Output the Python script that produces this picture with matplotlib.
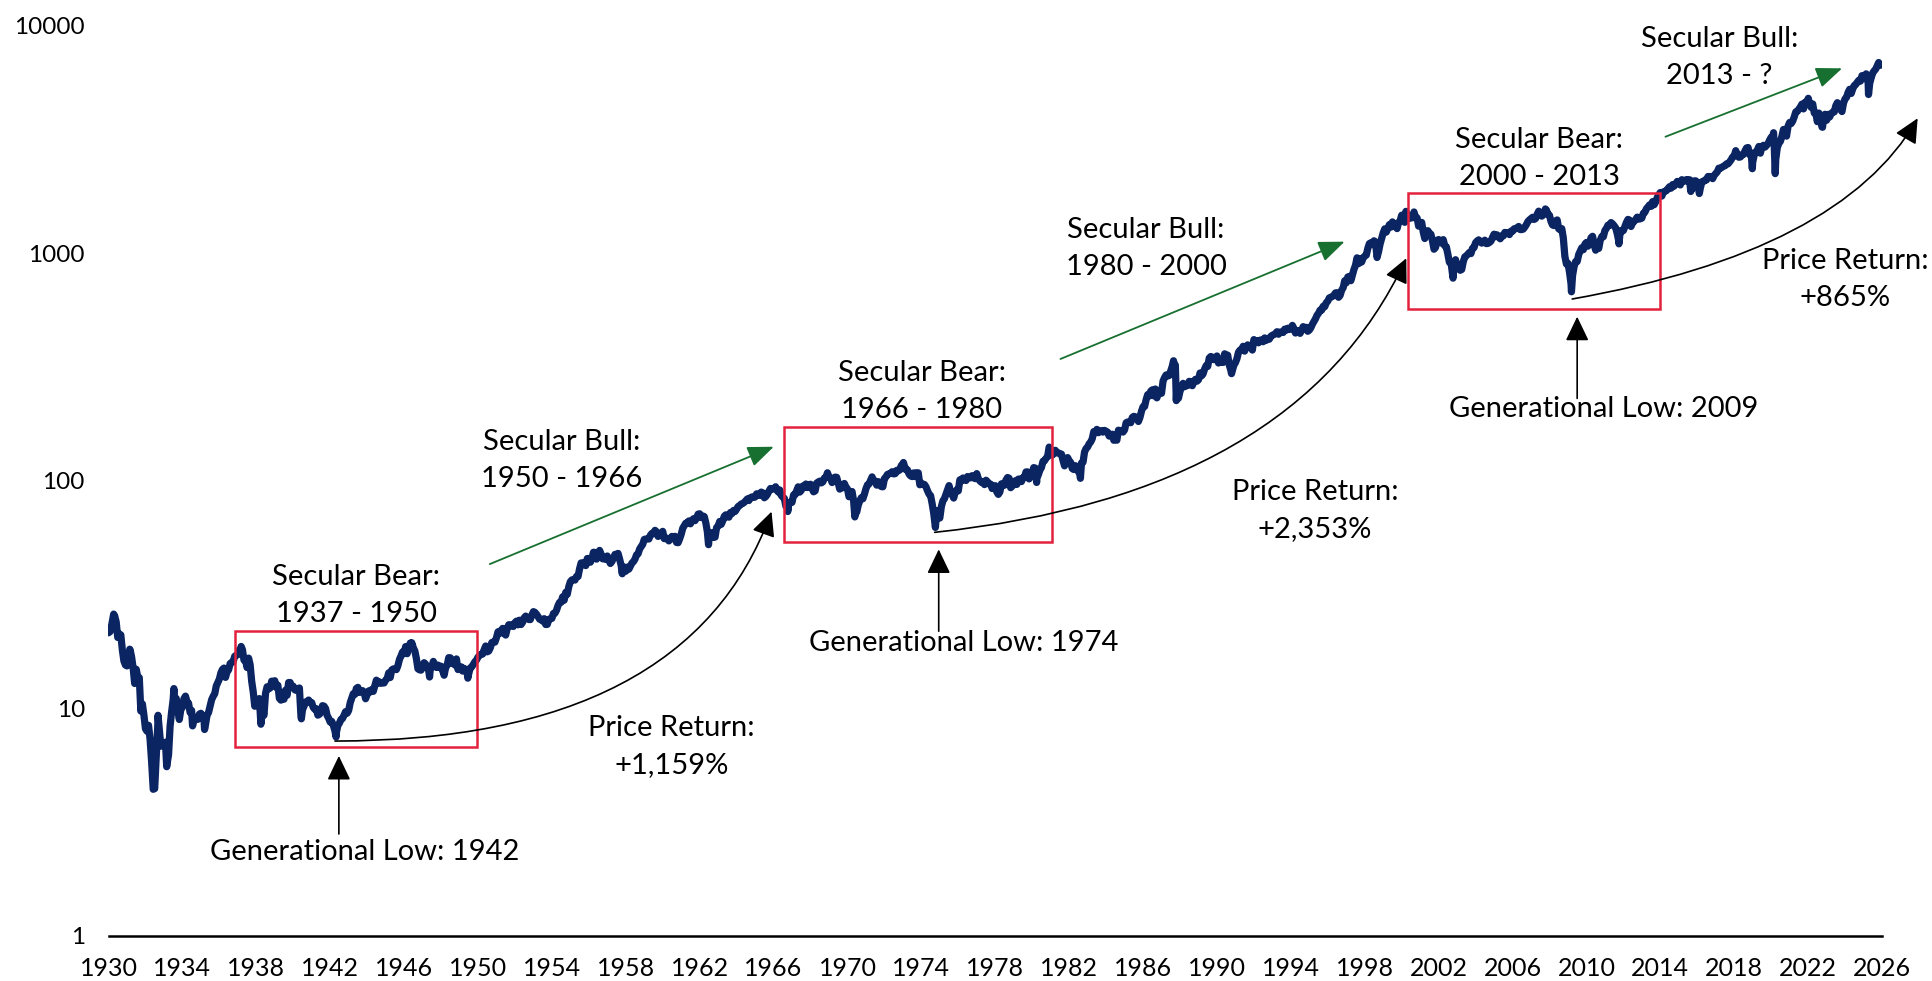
import numpy as np
import matplotlib
matplotlib.use("Agg")
import matplotlib.pyplot as plt
from matplotlib.patches import Rectangle
from matplotlib.ticker import NullLocator

plt.rcParams['font.family'] = ['Lato', 'DejaVu Sans']

# ---------------- data: S&P 500 month-end closes ----------------
sp_1930s = [
    21.71, 23.07, 25.14, 25.46, 23.94, 20.46, 21.21, 21.00, 18.01, 16.12, 15.48, 15.34,
    16.36, 18.10, 16.81, 15.03, 12.84, 14.83, 13.71, 13.62, 9.71, 10.45, 9.34, 8.12,
    7.92, 8.41, 7.31, 5.83, 4.47, 4.43, 6.10, 8.39, 8.08, 6.81, 6.91, 6.89,
    7.09, 5.66, 6.23, 8.32, 9.64, 10.91, 10.31, 11.04, 9.78, 8.92, 9.89, 10.10,
    11.01, 11.30, 10.67, 10.52, 9.58, 9.78, 8.58, 9.10, 8.94, 8.93, 9.41, 9.50,
    9.28, 9.07, 8.46, 9.31, 9.58, 10.20, 10.90, 11.28, 11.57, 12.52, 12.97, 13.43,
    14.30, 14.80, 15.01, 13.66, 14.47, 14.73, 15.70, 15.91, 16.03, 16.92, 17.09, 17.18,
    18.01, 18.25, 18.09, 16.26, 16.29, 15.09, 16.60, 15.53, 13.15, 11.82, 10.20, 10.55,
    10.67, 11.02, 8.50, 9.74, 9.31, 11.62, 12.42, 12.15, 12.27, 13.15, 12.79, 13.21,
    12.34, 12.62, 11.05, 10.85, 11.61, 10.95, 12.00, 11.40, 12.97, 12.97, 12.35, 12.49,
]
sp_1940s = [
    12.05, 11.97, 12.15, 12.27, 9.27, 9.85, 10.21, 10.64, 10.73, 10.86, 10.59, 10.58,
    10.07, 9.89, 9.95, 9.32, 9.40, 9.61, 10.26, 10.21, 9.97, 9.30, 9.03, 8.69,
    8.75, 8.42, 7.99, 7.80, 8.41, 8.60, 8.92, 9.01, 9.31, 9.66, 9.50, 9.77,
    10.57, 11.08, 11.58, 11.49, 12.21, 12.35, 11.73, 11.78, 11.95, 11.76, 11.00, 11.48,
    11.91, 11.78, 12.08, 11.86, 12.55, 13.28, 12.90, 13.05, 12.86, 12.93, 12.91, 13.28,
    13.49, 14.30, 13.64, 14.73, 14.88, 14.91, 14.78, 15.39, 16.38, 16.97, 17.67, 17.36,
    18.66, 17.36, 18.37, 19.33, 19.40, 18.43, 17.84, 16.51, 14.90, 14.75, 14.69, 15.30,
    15.85, 15.61, 15.17, 14.60, 14.84, 15.21, 16.06, 15.40, 15.10, 15.47, 15.08, 15.30,
    14.69, 13.96, 15.08, 15.46, 16.68, 16.66, 15.77, 15.87, 15.48, 16.47, 14.79, 15.19,
    15.21, 14.56, 14.98, 14.66, 14.32, 14.19, 15.03, 15.22, 15.58, 16.00, 16.27, 16.76,
]
sp_1950s = [
    17.05, 17.22, 17.29, 18.07, 18.77, 17.69, 17.84, 18.42, 19.45, 19.53, 19.51, 20.41,
    21.66, 21.80, 21.40, 22.43, 21.52, 20.96, 22.40, 23.28, 23.26, 22.94, 22.88, 23.77,
    24.14, 23.26, 24.37, 23.32, 23.86, 24.96, 25.40, 25.03, 24.54, 24.52, 25.66, 26.57,
    26.38, 25.90, 25.29, 24.62, 24.54, 24.14, 24.75, 23.32, 23.35, 24.54, 24.76, 24.81,
    26.08, 26.15, 26.94, 28.26, 29.19, 29.21, 30.88, 29.83, 32.31, 31.68, 34.24, 35.98,
    36.63, 36.76, 36.58, 37.96, 37.91, 41.03, 43.52, 43.18, 43.67, 42.34, 45.51, 45.48,
    43.82, 45.34, 48.48, 48.38, 45.20, 46.97, 49.39, 47.51, 45.35, 45.58, 45.08, 46.67,
    44.72, 43.26, 44.11, 45.74, 47.43, 47.37, 47.91, 45.22, 42.42, 41.06, 41.72, 39.99,
    41.70, 40.84, 42.10, 43.44, 44.09, 45.24, 47.19, 47.75, 50.06, 51.33, 52.48, 55.21,
    55.42, 55.41, 55.44, 57.59, 58.68, 58.47, 60.51, 59.60, 56.88, 57.52, 58.28, 59.89,
]
sp_1960s = [
    55.61, 56.12, 55.34, 54.37, 55.83, 56.92, 55.51, 56.96, 53.52, 53.39, 55.54, 58.11,
    61.78, 63.44, 65.06, 65.31, 66.56, 64.64, 66.76, 68.07, 66.73, 68.62, 71.32, 71.55,
    68.84, 69.96, 69.55, 65.24, 59.63, 54.75, 58.23, 59.12, 56.27, 56.52, 62.26, 63.10,
    66.20, 64.29, 66.57, 69.80, 70.80, 69.37, 69.13, 72.50, 71.70, 74.01, 73.23, 75.02,
    77.04, 77.80, 78.98, 79.46, 80.37, 81.69, 83.18, 81.83, 84.18, 84.86, 84.42, 84.75,
    87.56, 87.43, 86.16, 89.11, 88.42, 84.12, 85.25, 87.17, 89.96, 92.42, 91.61, 92.43,
    92.88, 91.22, 89.23, 91.06, 86.13, 84.74, 83.60, 77.10, 76.56, 80.20, 80.45, 80.33,
    86.61, 86.78, 90.20, 94.01, 89.08, 90.64, 94.75, 93.64, 96.71, 93.30, 94.00, 96.47,
    92.24, 89.36, 90.20, 97.59, 98.68, 99.58, 97.74, 98.86, 102.67, 103.41, 108.37, 103.86,
    103.01, 98.13, 101.51, 103.69, 103.46, 97.71, 91.83, 95.51, 93.12, 97.24, 93.81, 92.06,
]
sp_1970s = [
    85.02, 89.50, 89.63, 81.52, 76.55, 72.72, 78.05, 81.52, 84.21, 83.25, 87.20, 92.15,
    95.88, 96.75, 100.31, 103.95, 99.63, 99.70, 95.58, 99.03, 98.34, 94.23, 93.99, 102.09,
    103.94, 106.57, 107.20, 107.67, 109.53, 107.14, 107.39, 111.09, 110.55, 111.58, 116.67, 118.05,
    116.03, 111.68, 111.52, 106.97, 104.95, 104.26, 108.22, 104.25, 108.43, 108.29, 95.96, 97.55,
    96.57, 96.22, 93.98, 90.31, 87.28, 86.00, 79.31, 72.15, 63.54, 73.90, 69.97, 68.56,
    76.98, 81.59, 83.36, 87.30, 91.15, 95.19, 88.75, 86.88, 83.87, 89.04, 91.24, 90.19,
    100.86, 99.71, 102.77, 101.64, 100.18, 104.28, 103.44, 102.91, 105.24, 102.90, 102.10, 107.46,
    102.03, 99.82, 98.42, 98.44, 96.12, 100.48, 98.85, 96.77, 96.53, 92.34, 94.83, 95.10,
    89.25, 87.04, 89.21, 96.83, 97.24, 95.53, 100.68, 103.29, 102.54, 93.15, 94.70, 96.11,
    99.93, 96.28, 101.59, 101.76, 99.08, 102.91, 103.81, 109.32, 109.32, 101.82, 106.16, 107.94,
]
sp_1980s = [
    114.16, 113.66, 102.09, 106.29, 111.24, 114.24, 121.67, 122.38, 125.46, 127.47, 140.52, 135.76,
    129.55, 131.27, 136.00, 132.81, 132.59, 131.21, 130.92, 122.79, 116.18, 121.89, 126.35, 122.55,
    120.40, 113.11, 111.96, 116.44, 111.88, 109.61, 107.09, 119.51, 120.42, 133.71, 138.54, 140.64,
    145.30, 148.06, 152.96, 164.42, 162.39, 168.11, 162.56, 164.40, 166.07, 163.55, 166.40, 164.93,
    163.41, 157.06, 159.18, 160.05, 150.55, 153.18, 150.66, 166.68, 166.10, 166.09, 163.58, 167.24,
    179.63, 181.18, 180.66, 179.83, 189.55, 191.85, 190.92, 188.63, 182.08, 189.82, 202.17, 211.28,
    211.78, 226.92, 238.90, 235.52, 247.35, 250.84, 236.12, 252.93, 231.32, 243.98, 249.22, 242.17,
    274.08, 284.20, 291.70, 288.36, 290.10, 304.00, 318.66, 329.80, 321.83, 251.79, 230.30, 247.08,
    257.07, 267.82, 258.89, 261.33, 262.16, 273.50, 272.02, 261.52, 271.91, 278.97, 273.70, 277.72,
    297.47, 288.86, 294.87, 309.64, 320.52, 317.98, 346.08, 351.45, 349.15, 340.36, 345.99, 353.40,
]
sp_1990s = [
    329.08, 331.89, 339.94, 330.80, 361.23, 358.02, 356.15, 322.56, 306.05, 304.00, 322.22, 330.22,
    343.93, 367.07, 375.22, 375.35, 389.83, 371.16, 387.81, 395.43, 387.86, 392.46, 375.22, 417.09,
    408.79, 412.70, 403.69, 414.95, 415.35, 408.14, 424.21, 414.03, 417.80, 418.68, 431.35, 435.71,
    438.78, 443.38, 451.67, 440.19, 450.19, 450.53, 448.13, 463.56, 458.93, 467.83, 461.79, 466.45,
    481.61, 467.14, 445.77, 450.91, 456.50, 444.27, 458.26, 475.49, 462.69, 472.35, 453.69, 459.27,
    470.42, 487.39, 500.71, 514.71, 533.40, 544.75, 562.06, 561.88, 584.41, 581.50, 605.37, 615.93,
    636.02, 640.43, 645.50, 654.17, 669.12, 670.63, 639.95, 651.99, 687.31, 705.27, 757.02, 740.74,
    786.16, 790.82, 757.12, 801.34, 848.28, 885.14, 954.29, 899.47, 947.28, 914.62, 955.40, 970.43,
    980.28, 1049.34, 1101.75, 1111.75, 1090.82, 1133.84, 1120.67, 957.28, 1017.01, 1098.67, 1163.63, 1229.23,
    1279.64, 1238.33, 1286.37, 1335.18, 1301.84, 1372.71, 1328.72, 1320.41, 1282.71, 1362.93, 1388.91, 1469.25,
]
sp_2000s = [
    1394.46, 1366.42, 1498.58, 1452.43, 1420.60, 1454.60, 1430.83, 1517.68, 1436.51, 1429.40, 1314.95, 1320.28,
    1366.01, 1239.94, 1160.33, 1249.46, 1255.82, 1224.42, 1211.23, 1133.58, 1040.94, 1059.78, 1139.45, 1148.08,
    1130.20, 1106.73, 1147.39, 1076.92, 1067.14, 989.82, 911.62, 916.07, 815.28, 885.76, 936.31, 879.82,
    855.70, 841.15, 848.18, 916.92, 963.59, 974.50, 990.31, 1008.01, 995.97, 1050.71, 1058.20, 1111.92,
    1131.13, 1144.94, 1126.21, 1107.30, 1120.68, 1140.84, 1101.72, 1104.24, 1114.58, 1130.20, 1173.82, 1211.92,
    1181.27, 1203.60, 1180.59, 1156.85, 1191.50, 1191.33, 1234.18, 1220.33, 1228.81, 1207.01, 1249.48, 1248.29,
    1280.08, 1280.66, 1294.83, 1310.61, 1270.09, 1270.20, 1276.66, 1303.82, 1335.85, 1377.94, 1400.63, 1418.30,
    1438.24, 1406.82, 1420.86, 1482.37, 1530.62, 1503.35, 1455.27, 1473.99, 1526.75, 1549.38, 1481.14, 1468.36,
    1378.55, 1330.63, 1322.70, 1385.59, 1400.38, 1280.00, 1267.38, 1282.83, 1166.36, 968.75, 896.24, 903.25,
    825.88, 735.09, 797.87, 872.81, 919.14, 919.32, 987.48, 1020.62, 1057.08, 1036.19, 1095.63, 1115.10,
]
sp_2010s = [
    1073.87, 1104.49, 1169.43, 1186.69, 1089.41, 1030.71, 1101.60, 1049.33, 1141.20, 1183.26, 1180.55, 1257.64,
    1286.12, 1327.22, 1325.83, 1363.61, 1345.20, 1320.64, 1292.28, 1218.89, 1131.42, 1253.30, 1246.96, 1257.60,
    1312.41, 1365.68, 1408.47, 1397.91, 1310.33, 1362.16, 1379.32, 1406.58, 1440.67, 1412.16, 1416.18, 1426.19,
    1498.11, 1514.68, 1569.19, 1597.57, 1630.74, 1606.28, 1685.73, 1632.97, 1681.55, 1756.54, 1805.81, 1848.36,
    1782.59, 1859.45, 1872.34, 1883.95, 1923.57, 1960.23, 1930.67, 2003.37, 1972.29, 2018.05, 2067.56, 2058.90,
    1994.99, 2104.50, 2067.89, 2085.51, 2107.39, 2063.11, 2103.84, 1972.18, 1920.03, 2079.36, 2080.41, 2043.94,
    1940.24, 1932.23, 2059.74, 2065.30, 2096.95, 2098.86, 2173.60, 2170.95, 2168.27, 2126.15, 2198.81, 2238.83,
    2278.87, 2363.64, 2362.72, 2384.20, 2411.80, 2423.41, 2470.30, 2471.65, 2519.36, 2575.26, 2647.58, 2673.61,
    2823.81, 2713.83, 2640.87, 2648.05, 2705.27, 2718.37, 2816.29, 2901.52, 2913.98, 2711.74, 2760.17, 2506.85,
    2704.10, 2784.49, 2834.40, 2945.83, 2752.06, 2941.76, 2980.38, 2926.46, 2976.74, 3037.56, 3140.98, 3230.78,
]
sp_2020s = [
    3225.52, 2954.22, 2584.59, 2912.43, 3044.31, 3100.29, 3271.12, 3500.31, 3363.00, 3269.96, 3621.63, 3756.07,
    3714.24, 3811.15, 3972.89, 4181.17, 4204.11, 4297.50, 4395.26, 4522.68, 4307.54, 4605.38, 4567.00, 4766.18,
    4515.55, 4373.94, 4530.41, 4131.93, 4132.15, 3785.38, 4130.29, 3955.00, 3585.62, 3871.98, 4080.11, 3839.50,
    4076.60, 3970.15, 4109.31, 4169.48, 4179.83, 4450.38, 4588.96, 4507.66, 4288.05, 4193.80, 4567.80, 4769.83,
    4845.65, 5096.27, 5254.35, 5035.69, 5277.51, 5460.48, 5522.30, 5648.40, 5762.48, 5705.45, 6032.38, 5881.63,
    6040.53, 5954.50, 5611.85, 5569.06, 5911.69, 6204.95, 6339.39, 6460.26, 6688.46, 6840.20, 6700.00,
]
decade_series = [(1930, sp_1930s), (1940, sp_1940s), (1950, sp_1950s), (1960, sp_1960s),
                 (1970, sp_1970s), (1980, sp_1980s), (1990, sp_1990s), (2000, sp_2000s),
                 (2010, sp_2010s), (2020, sp_2020s)]

# intra-month extremes visible on the chart (decimal year, level)
extreme_dates = [1930.00, 1930.28, 1931.15, 1932.42, 1932.68, 1933.15, 1933.54, 1934.55, 1935.20,
                 1937.18, 1940.44, 1942.32, 1946.41, 1947.38, 1949.45, 1957.81, 1962.48, 1966.11,
                 1966.77, 1970.40, 1973.03, 1974.76, 1980.24, 1982.61, 1987.65, 1987.80, 1990.79,
                 2000.23, 2002.78, 2007.78, 2009.19, 2011.76, 2015.65, 2016.11, 2018.98, 2020.13,
                 2020.22, 2022.01, 2022.78, 2025.14, 2025.27, 2025.82]
extreme_values = [21.45, 25.92, 18.17, 4.40, 9.31, 5.53, 12.20, 8.36, 8.06,
                  18.68, 8.98, 7.47, 19.25, 13.71, 13.55, 38.98, 52.32, 94.06,
                  73.20, 69.29, 120.24, 62.28, 98.22, 102.42, 336.77, 224.84, 295.46,
                  1527.46, 776.76, 1565.15, 676.53, 1099.23, 1867.61, 1829.08, 2351.10, 3386.15,
                  2237.40, 4796.56, 3577.03, 6144.15, 4982.77, 6890.00]

x_ticks = list(range(1930, 2027, 4))
y_ticks = [1, 10, 100, 1000, 10000]

# ---------------- assemble series ----------------
t_all, v_all = [], []
for start, vals in decade_series:
    t_all += [start + (i + 1) / 12.0 for i in range(len(vals))]
    v_all += vals
t_all += extreme_dates
v_all += extreme_values
order = np.argsort(t_all)
t_arr = np.array(t_all)[order]
v_arr = np.array(v_all)[order]

# ---------------- figure ----------------
W, H, DPI = 1933, 981, 100
fig = plt.figure(figsize=(W / DPI, H / DPI), dpi=DPI)
ax = fig.add_axes([108.5 / W, 1 - 935.7 / H, (1882 - 108.5) / W, (935.7 - 25.7) / H])

NAVY = '#0B2563'
RED = '#E4213D'
GREEN = '#17702F'

ax.plot(t_arr, v_arr, color=NAVY, lw=5.2, solid_joinstyle='round', solid_capstyle='round', zorder=3)

ax.set_yscale('log')
ax.set_ylim(1, 10000)
ax.set_xlim(1930, 2026)
ax.set_yticks(y_ticks)
ax.set_yticklabels([str(v) for v in y_ticks])
ax.yaxis.set_minor_locator(NullLocator())
ax.set_xticks(x_ticks)
ax.set_xticklabels([str(v) for v in x_ticks])
ax.xaxis.set_minor_locator(NullLocator())
ax.tick_params(axis='both', length=0, colors='black')
ax.tick_params(axis='y', pad=17, labelsize=17.5)
ax.tick_params(axis='x', pad=15, labelsize=18)
for s in ['top', 'right', 'left']:
    ax.spines[s].set_visible(False)
ax.spines['bottom'].set_linewidth(1.8)
ax.spines['bottom'].set_color('black')

# ---------------- red boxes ----------------
boxes = [(1936.85, 1949.92, 6.77, 21.85),
         (1966.57, 1981.09, 53.8, 171.7),
         (2000.34, 2013.99, 567, 1834)]
for x0, x1, y0, y1 in boxes:
    ax.add_patch(Rectangle((x0, y0), x1 - x0, y1 - y0, fill=False, edgecolor=RED, lw=1.8, zorder=4))

# ---------------- text labels ----------------
FS = 21
labels = [
    ("Secular Bear:\n1937 - 1950", 1943.41, 31.3),
    ("Secular Bull:\n1950 - 1966", 1954.55, 122.8),
    ("Price Return:\n+1,159%", 1960.49, 6.79),
    ("Secular Bear:\n1966 - 1980", 1974.03, 247),
    ("Secular Bull:\n1980 - 2000", 1986.17, 1051),
    ("Price Return:\n+2,353%", 1995.31, 74.1),
    ("Secular Bear:\n2000 - 2013", 2007.45, 2614),
    ("Secular Bull:\n2013 - ?", 2017.19, 7278),
    ("Price Return:\n+865%", 2024.0, 769),
    ("Generational Low: 1942", 1943.88, 2.337),
    ("Generational Low: 1974", 1976.30, 19.26),
    ("Generational Low: 2009", 2010.92, 206),
]
for txt, x, y in labels:
    ax.text(x, y, txt, ha='center', va='center', multialignment='center',
            fontsize=FS, color='black', linespacing=1.52, zorder=6)

# ---------------- green arrows ----------------
green_arrows = [((1950.64, 43.0), (1966.01, 141)),
                ((1981.53, 342.8), (1996.91, 1124)),
                ((2014.28, 3251), (2023.84, 6496))]
for (xs, ys), (xe, ye) in green_arrows:
    ax.annotate('', xy=(xe, ye), xytext=(xs, ys),
                arrowprops=dict(arrowstyle='-|>,head_length=0.8,head_width=0.32', color=GREEN,
                                lw=1.3, shrinkA=0, shrinkB=0, mutation_scale=20), zorder=5)

# ---------------- vertical black arrows ----------------
low_arrows = [(1942.47, 2.80, 6.17), (1974.94, 21.8, 49.9), (2009.50, 230, 526)]
for x, tail, tip in low_arrows:
    ax.annotate('', xy=(x, tip), xytext=(x, tail),
                arrowprops=dict(arrowstyle='-|>,head_length=0.75,head_width=0.36', color='black',
                                lw=1.2, shrinkA=0, shrinkB=0, mutation_scale=20), zorder=5)

# ---------------- curved return arrows ----------------
curves = [((1942.26, 7.17), (1965.89, 73.1), 0, 70),
          ((1974.72, 59.3), (2000.25, 950), 6, 65),
          ((2009.23, 629), (2027.93, 3917), 10, 60)]
for (xs, ys), (xe, ye), aA, aB in curves:
    ax.annotate('', xy=(xe, ye), xytext=(xs, ys), annotation_clip=False,
                arrowprops=dict(arrowstyle='-|>,head_length=0.75,head_width=0.36', color='black',
                                lw=1.2, shrinkA=0, shrinkB=0, mutation_scale=20,
                                connectionstyle=f'angle3,angleA={aA},angleB={aB}'), zorder=5)

fig.savefig('out.png', dpi=DPI, facecolor='white')
